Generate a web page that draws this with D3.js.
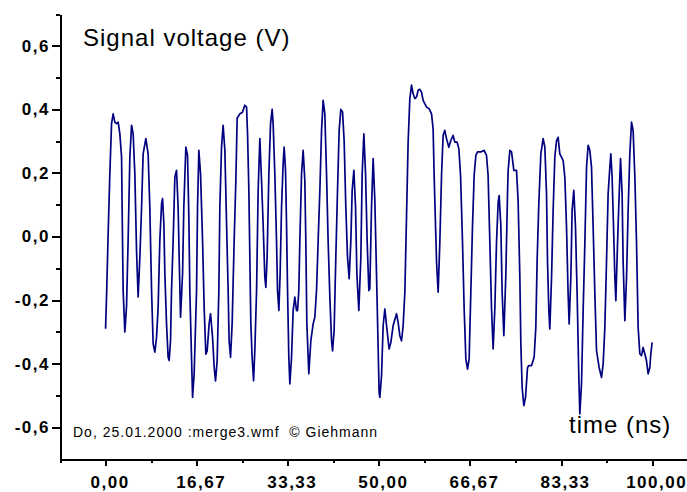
<!DOCTYPE html>
<html>
<head>
<meta charset="utf-8">
<script src="https://cdn.jsdelivr.net/npm/d3@7"></script>
<style>
  body { margin: 0; background: #fff; }
  svg { display: block; font-family: "Liberation Sans", Arial, sans-serif; }
  .axis path, .axis line { stroke: #000; stroke-width: 2; shape-rendering: crispEdges; }
  .axis text { font-family: "Liberation Sans", Arial, sans-serif; font-weight: bold; font-size: 17px; fill: #000; letter-spacing: 1.5px; }
</style>
</head>
<body>
<svg id="chart" width="687" height="492"></svg>
<script>
var timeNs = [0.00,0.18,0.48,0.79,1.10,1.39,1.70,2.01,2.31,2.62,2.93,3.07,3.22,3.53,3.84,4.13,4.45,4.76,5.05,5.36,
  5.67,5.96,6.28,6.59,6.88,7.37,7.79,8.10,8.42,8.71,9.02,9.33,9.62,9.93,10.25,10.43,10.67,10.85,11.16,11.45,
  11.64,11.89,12.07,12.37,12.68,12.99,13.28,13.47,13.72,14.09,14.32,14.69,15.00,15.24,15.42,15.73,15.92,16.21,16.65,16.83,
  17.07,17.38,17.75,18.04,18.35,18.59,18.95,19.21,19.58,19.87,20.12,20.42,20.73,20.91,21.22,21.51,21.83,22.14,22.43,22.61,
  22.87,23.16,23.53,23.84,24.08,24.57,25.03,25.48,25.80,25.98,26.22,26.40,26.58,26.82,27.08,27.31,27.63,27.92,28.23,28.54,
  28.83,29.14,29.33,29.56,29.88,30.19,30.48,30.66,30.97,31.28,31.47,31.71,31.94,32.20,32.49,32.68,32.93,33.11,33.30,33.53,
  33.72,34.03,34.32,34.63,34.94,35.13,35.36,35.55,35.86,36.15,36.46,36.64,36.83,37.07,37.19,37.56,37.98,38.29,38.60,38.90,
  39.21,39.52,39.81,40.12,40.43,40.72,41.04,41.35,41.53,41.82,42.13,42.44,42.74,43.05,43.36,43.65,43.96,44.27,44.57,44.88,
  45.12,45.43,45.74,45.98,46.34,46.71,46.95,47.26,47.57,47.86,48.17,48.35,48.66,48.96,49.27,49.58,50.05,50.18,50.49,50.79,
  51.10,51.41,51.88,52.20,52.62,53.24,53.53,53.84,54.15,54.45,54.76,55.07,55.36,55.67,55.98,56.27,56.59,56.90,57.19,57.50,
  57.81,58.10,58.73,59.20,59.64,59.93,60.12,60.37,60.56,60.85,61.16,61.47,61.76,62.07,62.38,62.81,63.17,63.59,63.90,64.32,
  64.64,64.95,65.31,65.61,65.92,66.23,66.52,66.83,67.14,67.44,67.75,68.06,68.66,69.26,69.70,69.99,70.31,70.62,70.91,71.22,
  71.53,71.83,72.01,72.32,72.56,72.87,73.23,73.55,73.66,73.97,74.28,74.70,75.19,75.48,75.80,75.98,76.22,76.53,76.84,77.20,
  77.44,77.94,78.41,78.72,78.96,79.27,79.64,80.06,80.37,80.68,80.86,81.10,81.28,81.60,81.89,82.20,82.51,82.80,83.11,83.42,
  83.72,84.03,84.34,84.63,84.82,85.13,85.36,85.67,85.98,86.28,86.59,86.77,87.08,87.38,87.69,88.00,88.29,88.60,88.91,89.21,
  89.52,89.83,90.30,90.74,91.04,91.35,91.66,91.95,92.26,92.44,92.68,92.94,93.18,93.36,93.67,93.91,94.22,94.51,94.69,95.01,
  95.32,95.61,95.92,96.23,96.52,96.84,97.15,97.44,97.75,98.06,98.35,98.66,98.97,99.27,99.58,99.76,100.00];

var signalV = [-0.29,-0.19,0.01,0.20,0.355,0.386,0.36,0.355,0.36,0.323,0.25,0.04,-0.17,-0.30,-0.22,-0.013,0.25,0.35,0.323,0.197,
  -0.044,-0.19,-0.065,0.092,0.26,0.308,0.26,0.092,-0.17,-0.338,-0.364,-0.317,-0.223,-0.013,0.103,0.119,0.04,-0.117,-0.275,-0.38,
  -0.39,-0.328,-0.17,-0.013,0.187,0.208,0.092,-0.065,-0.254,-0.117,0.092,0.281,0.255,0.061,-0.17,-0.38,-0.506,-0.432,-0.17,0.092,
  0.271,0.197,-0.013,-0.223,-0.37,-0.36,-0.275,-0.243,-0.317,-0.41,-0.454,-0.39,-0.17,0.092,0.281,0.35,0.271,0.04,-0.17,-0.328,
  -0.38,-0.275,-0.013,0.176,0.372,0.386,0.39,0.413,0.407,0.323,0.145,-0.065,-0.275,-0.38,-0.454,-0.36,-0.17,0.145,0.308,0.176,
  0.04,-0.128,-0.16,-0.065,0.197,0.355,0.40,0.355,0.197,-0.013,-0.17,-0.233,-0.117,0.092,0.229,0.281,0.208,0.04,-0.17,-0.38,
  -0.464,-0.38,-0.233,-0.191,-0.233,-0.233,-0.17,-0.013,0.197,0.271,0.176,-0.013,-0.275,-0.38,-0.432,-0.328,-0.275,-0.254,-0.17,-0.013,
  0.145,0.334,0.428,0.386,0.197,-0.013,-0.191,-0.328,-0.36,-0.296,-0.065,0.145,0.334,0.40,0.392,0.302,0.092,-0.065,-0.133,-0.013,
  0.145,0.208,0.092,-0.117,-0.233,-0.065,0.197,0.323,0.197,-0.013,-0.17,-0.164,0.092,0.245,0.113,-0.123,-0.49,-0.506,-0.438,-0.28,
  -0.228,-0.28,-0.354,-0.333,-0.28,-0.243,-0.27,-0.312,-0.328,-0.28,-0.175,0.066,0.297,0.434,0.476,0.449,0.434,0.439,0.46,0.463,
  0.454,0.428,0.407,0.402,0.386,0.339,0.192,0.035,-0.081,-0.175,-0.018,0.192,0.318,0.334,0.308,0.281,0.302,0.318,0.297,0.297,
  0.276,0.192,-0.018,-0.228,-0.385,-0.417,-0.385,-0.175,0.035,0.192,0.255,0.266,0.266,0.271,0.255,0.192,-0.018,-0.228,-0.354,-0.228,
  -0.018,0.108,0.129,0.035,-0.175,-0.312,-0.123,0.14,0.208,0.271,0.266,0.208,0.208,0.113,-0.128,-0.338,-0.475,-0.532,-0.506,-0.412,
  -0.406,-0.406,-0.38,-0.286,-0.076,0.103,0.26,0.308,0.281,0.134,-0.076,-0.233,-0.291,-0.128,0.082,0.25,0.302,0.312,0.26,0.25,
  0.239,0.187,0.029,-0.18,-0.275,-0.128,0.082,0.145,0.029,-0.18,-0.443,-0.558,-0.464,-0.233,-0.023,0.218,0.287,0.271,0.218,0.029,
  -0.18,-0.359,-0.412,-0.443,-0.401,-0.286,-0.076,0.134,0.218,0.26,0.187,0.029,-0.128,-0.202,-0.023,0.103,0.245,0.134,-0.076,-0.265,
  -0.128,0.082,0.26,0.36,0.334,0.187,-0.023,-0.286,-0.369,-0.375,-0.349,-0.369,-0.391,-0.432,-0.412,-0.369,-0.333];

// ticks
var xMajorTicks = [0, 16.667, 33.333, 50, 66.667, 83.333, 100];
var xMajorLabels = ["0,00", "16,67", "33,33", "50,00", "66,67", "83,33", "100,00"];
var xMinorTicks = [-8.333, 8.333, 25, 41.667, 58.333, 75, 91.667];
var yMajorTicks = [-0.6, -0.4, -0.2, 0, 0.2, 0.4, 0.6];
var yMajorLabels = ["-0,6", "-0,4", "-0,2", "0,0", "0,2", "0,4", "0,6"];
var yMinorTicks = [-0.5, -0.3, -0.1, 0.1, 0.3, 0.5, 0.7];

var yTitle = "Signal voltage (V)";
var xTitle = "time (ns)";
var footNote = "Do, 25.01.2000 :merge3.wmf  \u00A9 Giehmann";

var width = 687, height = 492;
var svg = d3.select("#chart");

var x = d3.scaleLinear().domain([-8.333, 106.38]).range([60, 687]);
var y = d3.scaleLinear().domain([-0.7, 0.7]).range([459, 14]);

// MINOR TICKS
svg.append("g").attr("class", "axis")
    .attr("transform", "translate(0,459)")
    .call(d3.axisBottom(x).tickValues(xMinorTicks).tickSize(4).tickSizeOuter(0).tickFormat(""));
svg.append("g").attr("class", "axis")
    .attr("transform", "translate(60,0)")
    .call(d3.axisLeft(y).tickValues(yMinorTicks).tickSize(4).tickSizeOuter(0).tickFormat(""));

// MAJOR TICKS + LABELS
var xAxis = svg.append("g").attr("class", "axis")
    .attr("transform", "translate(0,459)")
    .call(d3.axisBottom(x).tickValues(xMajorTicks).tickSize(7).tickSizeOuter(0).tickPadding(10)
        .tickFormat(function(d, i) { return xMajorLabels[i]; }));
xAxis.selectAll("text").attr("dx", 4);

svg.append("g").attr("class", "axis")
    .attr("transform", "translate(60,0)")
    .call(d3.axisLeft(y).tickValues(yMajorTicks).tickSize(8).tickSizeOuter(0).tickPadding(2)
        .tickFormat(function(d, i) { return yMajorLabels[i]; }));

// SIGNAL TRACE
var line = d3.line()
    .x(function(d) { return x(d[0]); })
    .y(function(d) { return y(d[1]); });

svg.append("path")
    .datum(d3.zip(timeNs, signalV))
    .attr("fill", "none")
    .attr("stroke", "#000080")
    .attr("stroke-width", 1.7)
    .attr("stroke-linejoin", "round")
    .attr("d", line);

// TITLES
svg.append("text")
    .attr("x", 83).attr("y", 46)
    .style("font-size", "24px").style("letter-spacing", "1px")
    .text(yTitle);

svg.append("text")
    .attr("x", 569).attr("y", 433)
    .style("font-size", "24px").style("letter-spacing", "1px")
    .text(xTitle);

svg.append("text")
    .attr("x", 73).attr("y", 437)
    .style("font-size", "14px").style("letter-spacing", "1px")
    .style("white-space", "pre")
    .text(footNote);
</script>
</body>
</html>
